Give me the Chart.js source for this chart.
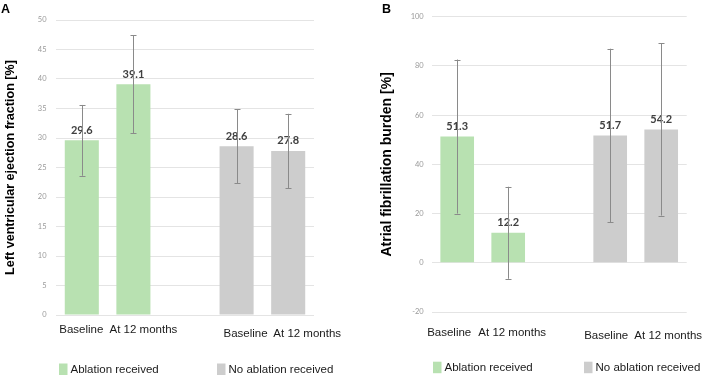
<!DOCTYPE html>
<html><head><meta charset="utf-8">
<script src="https://cdn.jsdelivr.net/npm/chart.js@4.4.1/dist/chart.umd.min.js"></script>
<style>
html,body{margin:0;padding:0;background:#fff;width:709px;height:378px;overflow:hidden;position:relative}
#wa{position:absolute;left:0;top:0;width:355px;height:378px}
#wb{position:absolute;left:355px;top:0;width:354px;height:378px}
</style></head><body>
<div id="wa"><canvas id="ca" width="355" height="378"></canvas></div>
<div id="wb"><canvas id="cb" width="354" height="378"></canvas></div>
<script>
// ---- data ----
const categories = ["Baseline", "At 12 months", "", "Baseline", "At 12 months"];
const groupOfBar = ["ablation", "ablation", null, "noAblation", "noAblation"];
const lvefMean = [29.6, 39.1, null, 28.6, 27.8];
const lvefSD   = [6.0, 8.3, null, 6.3, 6.3];
const afMean   = [51.3, 12.2, null, 51.7, 54.2];
const afSD     = [31.3, 18.7, null, 35.3, 35.0];
const lvefTicks = [0, 5, 10, 15, 20, 25, 30, 35, 40, 45, 50];
const afTicks   = [-20, 0, 20, 40, 60, 80, 100];
const legendLabels = ["Ablation received", "No ablation received"];
const panelLetters = ["A", "B"];
const yTitles = ["Left ventricular ejection fraction [%]", "Atrial fibrillation burden [%]"];

// ---- styles ----
const COLORS = { ablation: "#b8e1b1", noAblation: "#cdcdcd" };
const SANS = "'Liberation Sans', Arial, sans-serif";

function makePanel(canvasId, means, sds, ticks, title, letter, st) {
  const barColors = groupOfBar.map(g => g ? COLORS[g] : "rgba(0,0,0,0)");
  const overlay = {
    id: "overlay" + canvasId,
    afterDatasetsDraw(chart) {
      const ctx = chart.ctx;
      const ys = chart.scales.y;
      const meta = chart.getDatasetMeta(0);
      ctx.save();
      // value labels
      ctx.font = "bold 11px Lato, 'Open Sans', sans-serif";
      ctx.fillStyle = "#404040";
      ctx.textAlign = "center";
      ctx.textBaseline = "alphabetic";
      means.forEach((v, i) => {
        if (v == null) return;
        const bar = meta.data[i];
        ctx.fillText(v.toFixed(1), bar.x, bar.y - 6.5);
      });
      // error bars
      ctx.strokeStyle = "#8a8a8a";
      ctx.lineWidth = 1;
      means.forEach((v, i) => {
        if (v == null) return;
        const bar = meta.data[i];
        const x = Math.round(bar.x) + 0.5;
        const yt = ys.getPixelForValue(v + sds[i]);
        const yb = ys.getPixelForValue(v - sds[i]);
        ctx.beginPath();
        ctx.moveTo(x, yt); ctx.lineTo(x, yb);
        ctx.moveTo(x - 3, Math.round(yt) + 0.5); ctx.lineTo(x + 3, Math.round(yt) + 0.5);
        ctx.moveTo(x - 3, Math.round(yb) + 0.5); ctx.lineTo(x + 3, Math.round(yb) + 0.5);
        ctx.stroke();
      });
      ctx.restore();
    },
    afterDraw(chart) {
      const ctx = chart.ctx;
      const xs = chart.scales.x;
      ctx.save();
      // category labels
      ctx.font = "11.5px " + SANS;
      ctx.fillStyle = "#1a1a1a";
      ctx.textAlign = "center";
      ctx.textBaseline = "middle";
      categories.forEach((c, i) => {
        if (!c) return;
        ctx.fillText(c, xs.getPixelForValue(i) + st.labelDx[i], st.labelY[i]);
      });
      // legend
      ctx.textAlign = "left";
      legendLabels.forEach((lab, k) => {
        const g = k === 0 ? "ablation" : "noAblation";
        const lx = st.legendX[k], ly = st.legendY;
        ctx.fillStyle = COLORS[g];
        ctx.fillRect(lx, ly, 8.5, 11.5);
        ctx.fillStyle = "#1a1a1a";
        ctx.fillText(lab, lx + 11.5, ly + 6.5);
      });
      // panel letter
      ctx.font = "bold 12.5px " + SANS;
      ctx.fillStyle = "#000";
      ctx.textBaseline = "alphabetic";
      ctx.fillText(letter, st.letterX, 12.5);
      ctx.restore();
    }
  };

  return new Chart(document.getElementById(canvasId), {
    type: "bar",
    data: {
      labels: categories,
      datasets: [{
        data: means,
        backgroundColor: barColors,
        borderWidth: 0,
        categoryPercentage: 1,
        barPercentage: 0.66
      }]
    },
    options: {
      responsive: false,
      animation: false,
      devicePixelRatio: 1,
      layout: { padding: { left: 0, right: st.padRight, top: st.padTop, bottom: st.padBottom } },
      plugins: { legend: { display: false }, tooltip: { enabled: false } },
      scales: {
        x: { display: false },
        y: {
          min: ticks[0], max: ticks[ticks.length - 1],
          afterFit(scale) { scale.width = st.yWidth; },
          afterBuildTicks(scale) { scale.ticks = ticks.map(v => ({ value: v })); },
          ticks: { font: { family: "Lato, 'Open Sans', sans-serif", size: 7.5 }, color: "#9a9a9a", padding: st.tickPad },
          grid: { color: "#e4e4e4", lineWidth: 1, drawTicks: false },
          border: { display: false },
          title: {
            display: true, text: title, color: "#000",
            font: { family: SANS, size: st.titleSize, weight: "bold" },
            padding: { top: st.titlePad, bottom: 0 }
          }
        }
      }
    },
    plugins: [overlay]
  });
}

makePanel("ca", lvefMean, lvefSD, lvefTicks, yTitles[0], panelLetters[0], {
  padRight: 41, padTop: 20, padBottom: 63, yWidth: 56, tickPad: 9.5,
  titleSize: 12.6, titlePad: 3,
  labelDx: [-0.5, 10, 0, 9, 19], labelY: [330, 330, 0, 334, 334],
  legendX: [59, 217], legendY: 363.5, letterX: 1
});
makePanel("cb", afMean, afSD, afTicks, yTitles[1], panelLetters[1], {
  padRight: 22.3, padTop: 16.7, padBottom: 66, yWidth: 76.7, tickPad: 8,
  titleSize: 14, titlePad: 23.6,
  labelDx: [-8, 4, 0, -4, 7], labelY: [333, 333, 0, 336, 336],
  legendX: [78, 229], legendY: 361.7, letterX: 27
});
</script>
</body></html>
